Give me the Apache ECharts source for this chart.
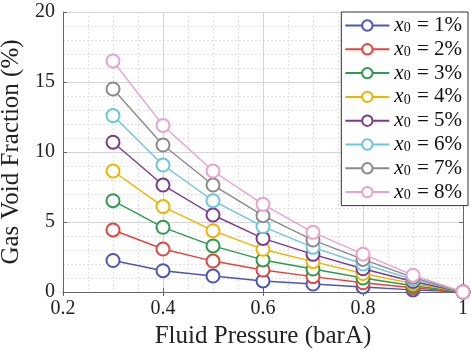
<!DOCTYPE html>
<html>
<head>
<meta charset="utf-8">
<script src="https://cdn.jsdelivr.net/npm/echarts@6/dist/echarts.min.js"></script>
<style>
    html, body { margin: 0; padding: 0; background: #fff; }
    #chart { width: 471px; height: 351px; }
</style>
</head>
<body>
<div id="chart"></div>
<script>
    // fluid pressure (barA)
    const pressure = [0.3, 0.4, 0.5, 0.6, 0.7, 0.8, 0.9, 1.0];
    // gas void fraction (%) for each initial gas content x0
    const x0_1 = [2.25, 1.52, 1.14, 0.79, 0.57, 0.36, 0.15, 0];
    const x0_2 = [4.43, 3.07, 2.21, 1.57, 1.10, 0.66, 0.30, 0];
    const x0_3 = [6.52, 4.62, 3.29, 2.29, 1.64, 1.00, 0.45, 0];
    const x0_4 = [8.64, 6.10, 4.38, 3.05, 2.17, 1.32, 0.60, 0];
    const x0_5 = [10.7, 7.64, 5.50, 3.83, 2.69, 1.66, 0.75, 0];
    const x0_6 = [12.6, 9.07, 6.52, 4.67, 3.19, 2.00, 0.90, 0];
    const x0_7 = [14.5, 10.5, 7.64, 5.45, 3.71, 2.33, 1.05, 0];
    const x0_8 = [16.5, 11.9, 8.64, 6.26, 4.26, 2.70, 1.20, 0];
    const seriesNames = ['1%', '2%', '3%', '4%', '5%', '6%', '7%', '8%'];
    const seriesData = [x0_1, x0_2, x0_3, x0_4, x0_5, x0_6, x0_7, x0_8];
    const colors = ['#4a57b5', '#e2453f', '#2f9a52', '#f0b400', '#7b3a8e', '#6cc5e0', '#8a8a8a', '#eaa2cc'];

    const serif = 'Liberation Serif';

    var dom = document.getElementById('chart');
    var myChart = echarts.init(dom, null, { renderer: 'canvas' });

    const series = seriesData.map((vals, i) => ({
        name: seriesNames[i],
        type: 'line',
        data: vals.map((v, j) => [pressure[j], v]),
        symbol: 'emptyCircle',
        symbolSize: 13,
        color: colors[i],
        lineStyle: { width: 1.4 },
        itemStyle: { borderWidth: 1.4 },
        z: 2 + i
    }));

    var option = {
        animation: false,
        grid: { left: 63, right: 8, top: 12, bottom: 59, outerBoundsMode: 'none' },
        legend: {
            orient: 'vertical',
            right: 3,
            top: 12,
            padding: [3, 6, 3, 3],
            itemWidth: 44,
            itemHeight: 13,
            itemGap: 2.8,
            backgroundColor: '#fff',
            borderColor: '#333',
            borderWidth: 1,
            borderRadius: 0,
            data: seriesNames,
            formatter: name => '{i|x}{s|0} = ' + name,
            textStyle: {
                fontFamily: serif,
                fontSize: 21,
                lineHeight: 20,
                color: '#111',
                rich: {
                    i: { fontFamily: serif, fontStyle: 'italic', fontSize: 21, lineHeight: 20, color: '#111' },
                    s: { fontFamily: serif, fontSize: 14, lineHeight: 14, color: '#111', padding: [6, 1, 0, 0] }
                }
            }
        },
        xAxis: [{
            type: 'value',
            min: 0.2,
            max: 1,
            interval: 0.2,
            name: 'Fluid Pressure (barA)',
            nameLocation: 'middle',
            nameGap: 31,
            nameTextStyle: { fontFamily: serif, fontSize: 25, color: '#222' },
            axisLine: { lineStyle: { color: '#666' } },
            axisTick: { inside: true, length: 4, lineStyle: { color: '#666' } },
            axisLabel: {
                fontFamily: serif, fontSize: 20, color: '#222', margin: 7,
                formatter: v => (v === 1 ? '1' : v.toFixed(1))
            },
            splitLine: { show: true, lineStyle: { color: '#d4d4d4' } },
            minorTick: { show: false, splitNumber: 4 },
            minorSplitLine: { show: true, lineStyle: { color: '#e2e2e2', type: [2, 2] } }
        }, {
            type: 'value',
            position: 'top',
            min: 0.2,
            max: 1,
            interval: 0.2,
            axisLine: { show: true, lineStyle: { color: '#666' } },
            axisTick: { show: true, inside: true, length: 4, lineStyle: { color: '#666' } },
            axisLabel: { show: false },
            splitLine: { show: false }
        }],
        yAxis: [{
            type: 'value',
            min: 0,
            max: 20,
            interval: 5,
            name: 'Gas Void Fraction (%)',
            nameLocation: 'middle',
            nameGap: 35,
            nameTextStyle: { fontFamily: serif, fontSize: 25, color: '#222' },
            axisLine: { show: true, lineStyle: { color: '#666' } },
            axisTick: { show: true, inside: true, length: 4, lineStyle: { color: '#666' } },
            axisLabel: { fontFamily: serif, fontSize: 20, color: '#222', margin: 8 },
            splitLine: { show: true, lineStyle: { color: '#d4d4d4' } },
            minorTick: { show: false, splitNumber: 5 },
            minorSplitLine: { show: true, lineStyle: { color: '#e2e2e2', type: [2, 2] } }
        }, {
            type: 'value',
            position: 'right',
            min: 0,
            max: 20,
            interval: 5,
            axisLine: { show: true, lineStyle: { color: '#666' } },
            axisTick: { show: true, inside: true, length: 4, lineStyle: { color: '#666' } },
            axisLabel: { show: false },
            splitLine: { show: false }
        }],
        series: series
    };
    option && myChart.setOption(option);
</script>
</body>
</html>
